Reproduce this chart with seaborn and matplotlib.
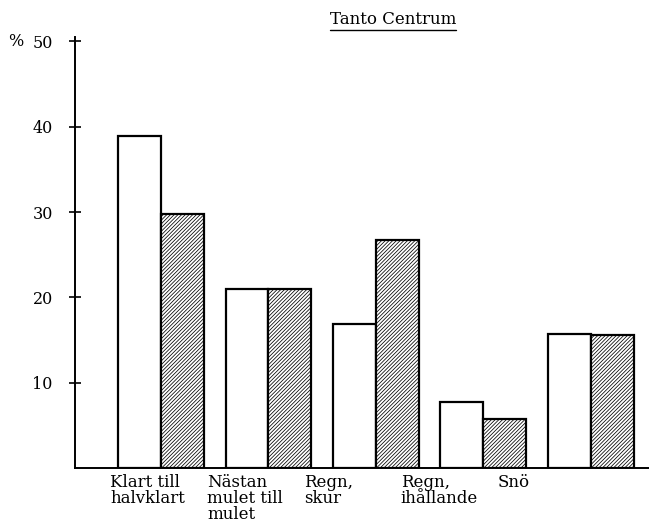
import numpy as np
import pandas as pd
import matplotlib
matplotlib.use('Agg')
import matplotlib.pyplot as plt
import matplotlib.transforms as mtransforms
from matplotlib.lines import Line2D
import seaborn as sns

# data
categories = ['Klart till\nhalvklart', 'Nästan\nmulet till\nmulet', 'Regn,\nskur',
              'Regn,\nihållande', 'Snö']
white_vals = [38.9, 21.0, 16.9, 7.7, 15.7]
hatched_vals = [29.8, 21.0, 26.7, 5.7, 15.6]
series_names = ['A', 'B']
title = 'Tanto Centrum'

df = pd.DataFrame({
    'kategori': categories * 2,
    'procent': white_vals + hatched_vals,
    'serie': [series_names[0]] * len(categories) + [series_names[1]] * len(categories),
})

sns.set_style('white')
plt.rcParams['font.family'] = ['DejaVu Serif']
plt.rcParams['hatch.linewidth'] = 0.55
plt.rcParams['text.color'] = 'black'
plt.rcParams['xtick.color'] = 'black'
plt.rcParams['ytick.color'] = 'black'
plt.rcParams['xtick.labelcolor'] = 'black'
plt.rcParams['ytick.labelcolor'] = 'black'

fig = plt.figure(figsize=(6.49, 5.23), dpi=100)
ax = fig.add_axes([0.1156, 0.105, 0.8844, 0.824])

sns.barplot(data=df, x='kategori', y='procent', hue='serie', palette=['white', 'white'],
            edgecolor='black', linewidth=1.6, width=0.8, ax=ax, legend=False)

# second series hatched
for bar in ax.containers[1]:
    bar.set_hatch('/////////')

ax.set_xlim(-0.8, 4.54)
ax.set_ylim(0, 50.5)
ax.set_xlabel('')
ax.set_ylabel('')

for side in ['top', 'right']:
    ax.spines[side].set_visible(False)
for side in ['left', 'bottom']:
    ax.spines[side].set_linewidth(1.4)
    ax.spines[side].set_color('black')

ax.set_yticks([10, 20, 30, 40, 50])
ax.tick_params(axis='y', left=True, direction='inout', length=8, width=1.2,
               labelsize=11.5, pad=12)

# category labels sit left-aligned, drifting left of each group
label_pos = np.arange(len(categories)) - 0.47 - 0.1 * np.arange(len(categories))
ax.set_xticks(label_pos)
ax.set_xticklabels(categories, ha='left', va='top', fontsize=12, linespacing=0.93)
ax.tick_params(axis='x', bottom=False, length=0, pad=4)

trans = mtransforms.blended_transform_factory(ax.transAxes, ax.transData)
ax.text(-0.103, 50, '%', transform=trans, ha='center', va='center', fontsize=11.5)

t = fig.text(0.606, 0.962, title, ha='center', va='center', fontsize=12)

# underline the title
fig.canvas.draw()
bb = t.get_window_extent().transformed(fig.transFigure.inverted())
fig.add_artist(Line2D([bb.x0, bb.x1], [bb.y0 - 0.004, bb.y0 - 0.004],
                      transform=fig.transFigure, color='black', linewidth=1.0))

fig.savefig('out.png', dpi=100)
